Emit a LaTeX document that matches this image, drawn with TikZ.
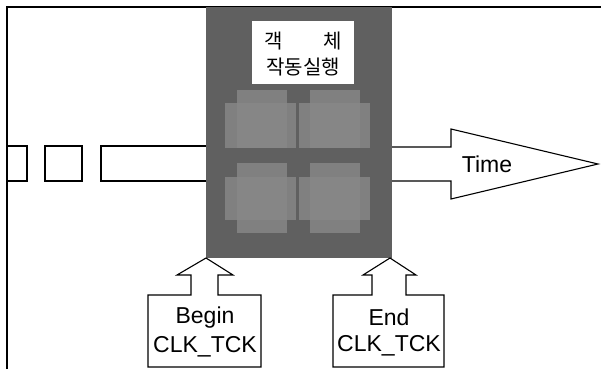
\documentclass[tikz,border=0pt]{standalone}
\usepackage{fontspec}
\setmainfont{Liberation Sans}
\newfontfamily\kor{Noto Sans CJK KR}
\definecolor{darkobj}{RGB}{96,96,96}
\definecolor{lightsq}{RGB}{136,136,136}
\begin{document}
\begin{tikzpicture}[x=1pt,y=-1pt,
  outline/.style={draw=black,line width=1.1pt,line join=miter},
  frameline/.style={draw=black,line width=2pt},
  lbl/.style={font=\fontsize{23}{25}\selectfont,inner sep=0pt},
  kr/.style={font=\kor\fontsize{20}{22}\selectfont,inner sep=0pt},
  sq/.style={fill=lightsq,fill opacity=0.8,draw=none}]
\useasboundingbox (0,0) rectangle (601,369);
\fill[white] (0,0) rectangle (601,369);
% frame
\draw[frameline] (7,369) -- (7,7) -- (601,7);
% timeline boxes left
\draw[outline] (7,146) rectangle (27,181);
\draw[outline] (45,146) rectangle (82,181);
\draw[outline] (206,146) -- (101,146) -- (101,181) -- (206,181);
% time arrow right
\draw[outline] (392,147) -- (451,147) -- (451,129) -- (598,164) -- (451,199) -- (451,181) -- (392,181);
\node[lbl] (time) at (487,164) {Time};
% object execution block
\node[fill=darkobj,draw=none,minimum width=186pt,minimum height=251pt,inner sep=0pt] (obj) at (299,132.5) {};
% lighter squares
\fill[sq] (237,90) rectangle (287,148);
\fill[sq] (310,90) rectangle (360,148);
\fill[sq] (237,163) rectangle (287,233);
\fill[sq] (310,163) rectangle (360,233);
\fill[sq] (225,103) rectangle (296,148);
\fill[sq] (299,103) rectangle (370,148);
\fill[sq] (225,177) rectangle (296,220);
\fill[sq] (299,177) rectangle (370,220);
% label box
\node[fill=white,draw=none,minimum width=102pt,minimum height=63pt,inner sep=0pt] (labelbox) at (303,52.5) {};
\node[kr] (k1) at (274,41) {객};
\node[kr] (k2) at (333,41) {체};
\node[kr] (k3) at (303,67) {작동실행};
% begin marker
\draw[outline,fill=white] (206,258) -- (233,275) -- (218,275) -- (218,295) -- (261,295) -- (261,367) -- (148,367) -- (148,295) -- (191,295) -- (191,275) -- (177,275) -- cycle;
\node[lbl] (b1) at (205,318) {Begin};
\node[lbl] (b2) at (205,347) {CLK\_TCK};
% end marker
\draw[outline,fill=white] (390,258) -- (416,275) -- (406,275) -- (406,295) -- (444,295) -- (444,367) -- (333,367) -- (333,295) -- (372,295) -- (372,275) -- (363,275) -- cycle;
\node[lbl] (e1) at (389,317) {End};
\node[lbl] (e2) at (389,346) {CLK\_TCK};
\end{tikzpicture}
\end{document}
